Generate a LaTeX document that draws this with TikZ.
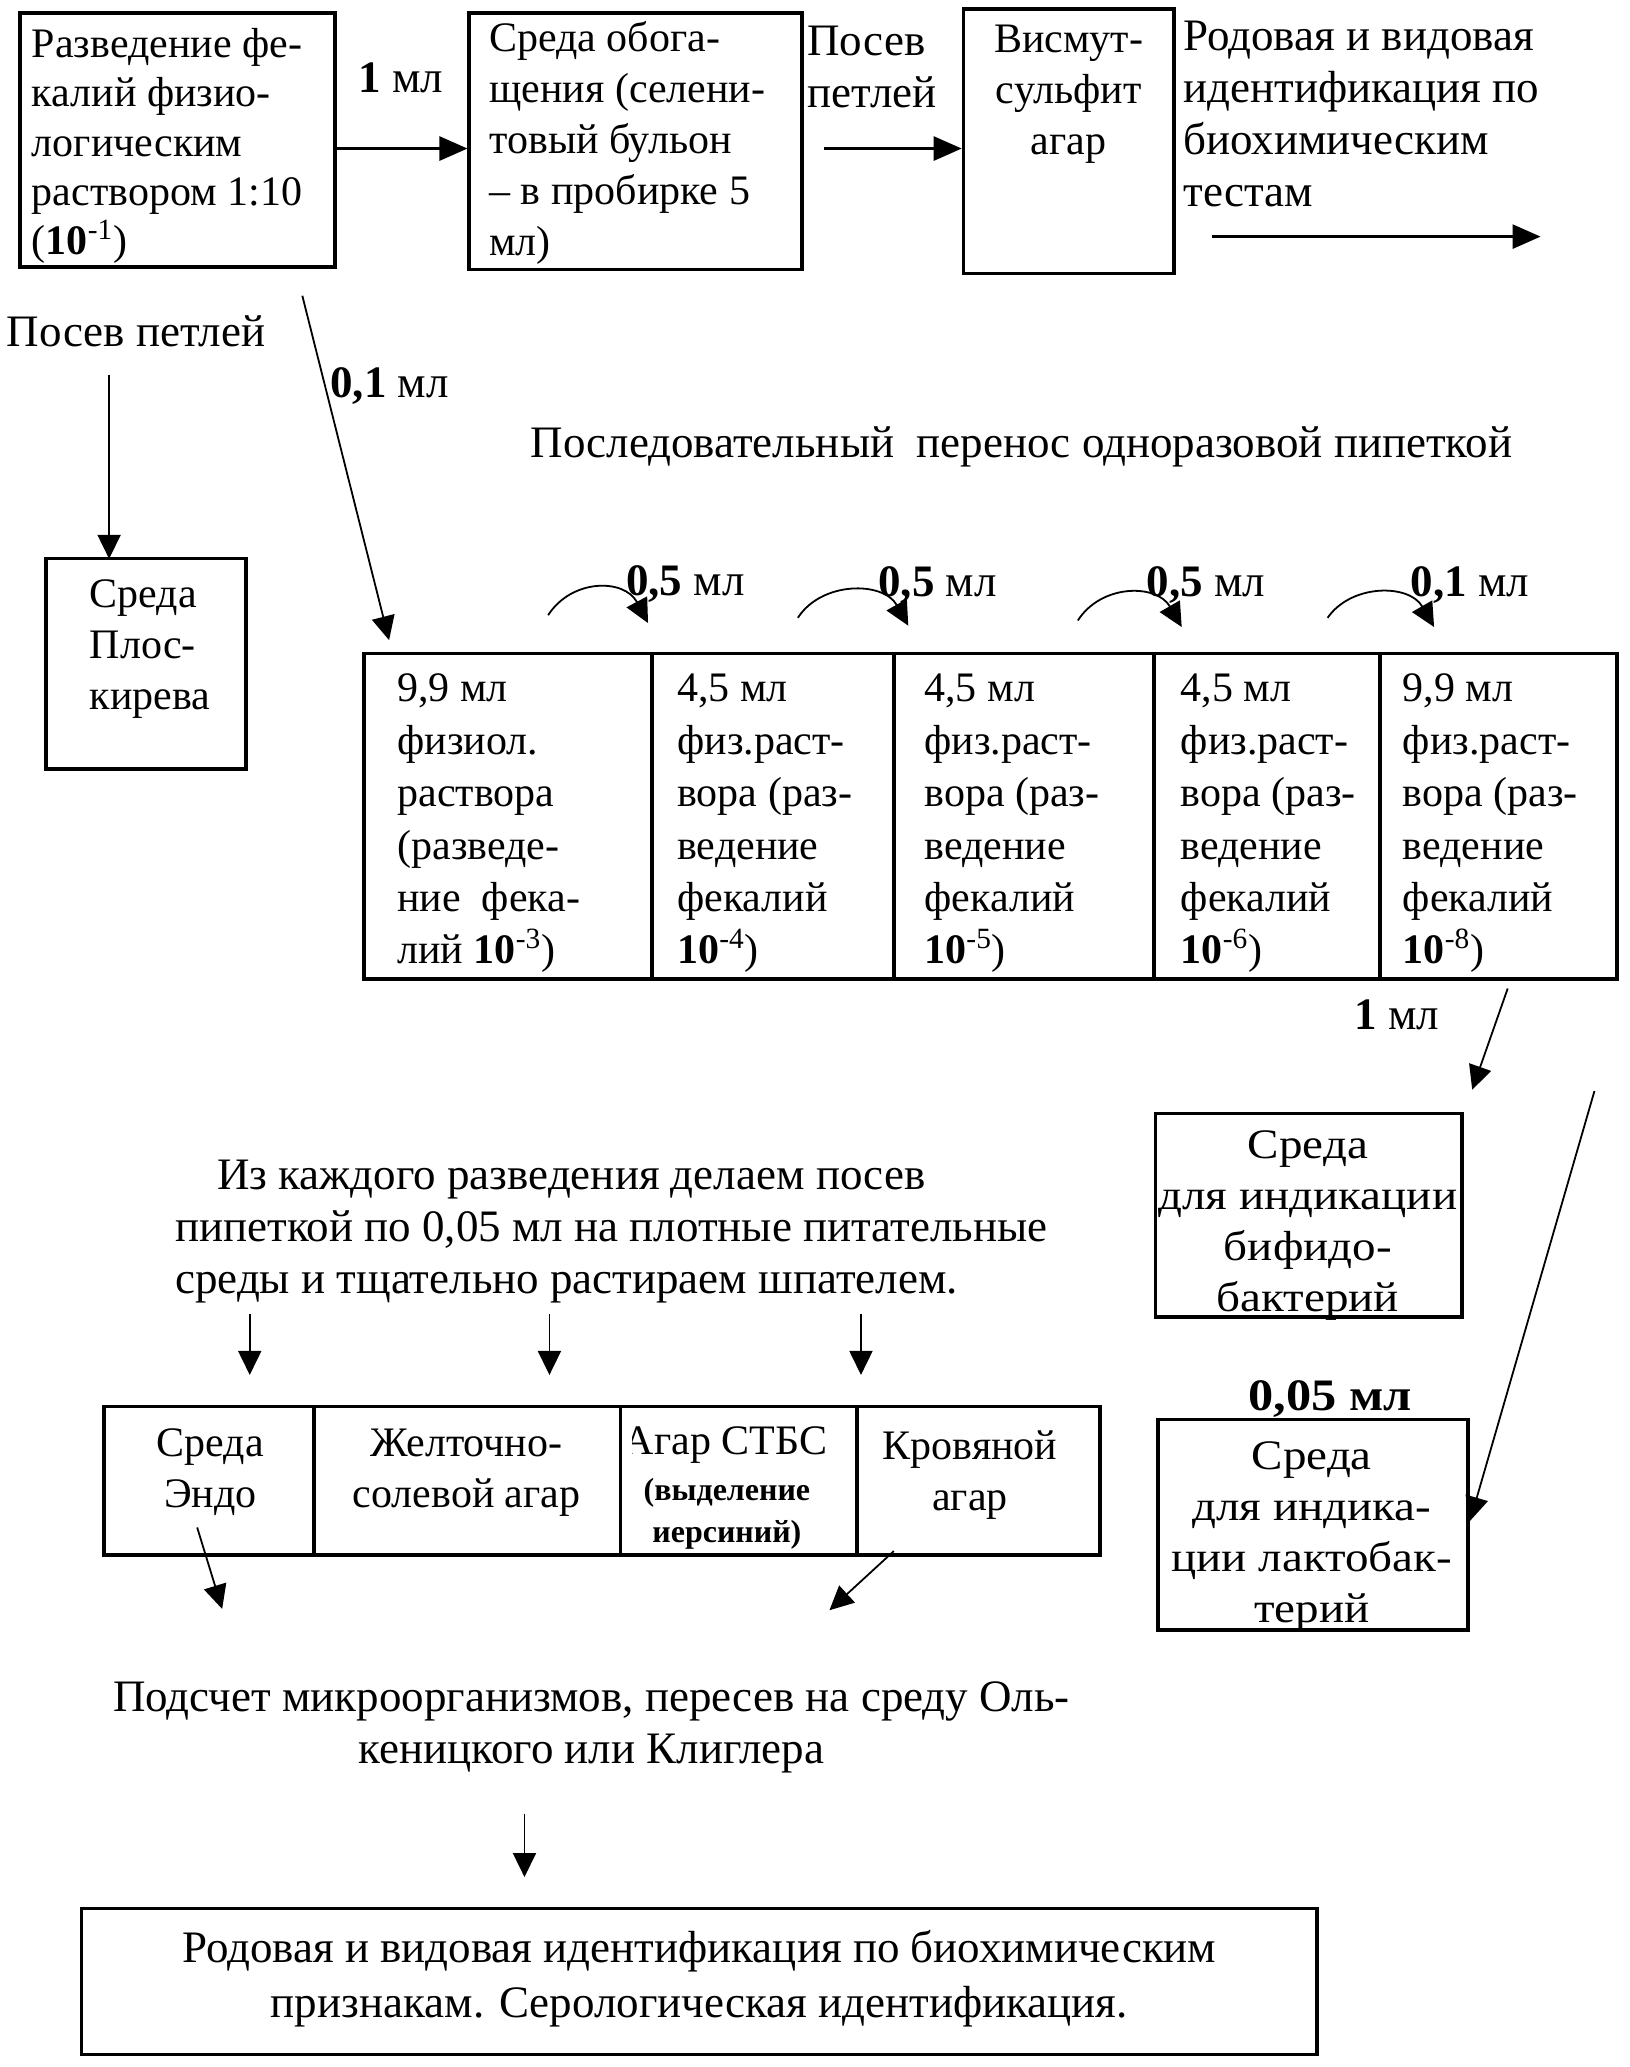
\documentclass[tikz,border=0pt]{standalone}
\usepackage{fontspec}
\setmainfont{Liberation Serif}
\newfontfamily\widefont[FakeStretch=1.12]{Liberation Serif}
\usetikzlibrary{arrows.meta,fit}
\newcommand{\fa}{\fontsize{21}{25.5}\selectfont}
\newcommand{\fd}{\fontsize{21}{24.7}\selectfont}
\newcommand{\fc}{\fontsize{21}{26.2}\selectfont}
\newcommand{\fb}{\fontsize{22.5}{26}\selectfont}
\begin{document}
\begin{tikzpicture}[x=0.6573pt,y=-0.6573pt,
  bx/.style={draw, line width=1.8pt, inner sep=0pt},
  txt/.style={inner sep=0pt, font=\fa, align=left},
  ctxt/.style={inner sep=0pt, font=\fc, align=left, anchor=west},
  wtxt/.style={inner sep=0pt, font=\widefont\fa, align=center},
  lbl/.style={inner sep=0pt, font=\fb, align=left},
  arr/.style={-{Triangle[length=14pt,width=12pt]}, line width=1.4pt},
  thin/.style={-{Triangle[length=12pt,width=11.5pt]}, line width=0.9pt}]
\useasboundingbox (0,0) rectangle (1240,1572.5);
\fill[white] (0,0) rectangle (1240,1572.5);
\coordinate (y113) at (0,113);
% --- top row
\node[bx, fit={(15,10) (255,203)}] (b1) {};
\begin{scope}
\clip (15,10) rectangle (253,203);
\node[txt, font=\fd, anchor=west] (t1) at (24,111) {Разведение фе-\\калий физио-\\логическим\\раствором 1:10\\(\textbf{10}\textsuperscript{-1})};
\end{scope}
\node[bx, fit={(357,10) (610,205)}] (b2) {};
\begin{scope}
\clip (357,10) rectangle (608,205);
\node[txt, anchor=west] (t2) at (372,109) {Среда обога-\\щения (селени-\\товый бульон\\– в пробирке 5\\мл)};
\end{scope}
\draw[arr] (b1.east |- y113) -- (b2.west |- y113);
\node[lbl, anchor=center] (l12) at (305,59) {\textbf{1} мл};
\node[lbl, anchor=west] (pp) at (614,51) {Посев\\петлей};
\node[bx, fit={(733,7) (893,208)}] (b3) {};
\node[txt, align=center, anchor=center] (t3) at (813,72) {Висмут-\\сульфит\\агар};
\coordinate (pps) at (627,113);
\draw[arr] (pps) -- (b3.west |- y113);
\node[lbl, anchor=west] (t4) at (900,87) {Родовая и видовая\\идентификация по\\биохимическим\\тестам};
\coordinate (r1) at (922,180);
\coordinate (r2) at (1172,180);
\draw[arr] (r1) -- (r2);
% --- left branch
\node[lbl, anchor=west] (pp2) at (5,252) {Посев петлей};
\node[bx, fit={(35,425) (187,585)}] (b4) {};
\node[txt, anchor=west] (t5) at (68,494) {Среда\\Плос-\\кирева};
\coordinate (ppx) at (83,285);
\draw[thin] (ppx) -- ([yshift=-1pt]ppx |- b4.north);
% --- 0,1 ml
\coordinate (d1) at (230,225);
\coordinate (d1e) at (296,487);
\draw[thin] (d1) -- (d1e);
\node[lbl, anchor=west] (l01) at (251,294) {\textbf{0,1} мл};
\node[lbl] (hdr) at (777,340) {Последовательный\ \ перенос одноразовой пипеткой};
% --- dilution cells
\node[bx, fit={(277,497) (496,745)}] (c1) {};
\node[bx, fit={(496,497) (680,745)}] (c2) {};
\node[bx, fit={(680,497) (878,745)}] (c3) {};
\node[bx, fit={(878,497) (1050,745)}] (c4) {};
\node[bx, fit={(1050,497) (1230,745)}] (c5) {};
\node[ctxt] (tc1) at (302,626.5) {9,9 мл\\физиол.\\раствора\\(разведе-\\ние\ \ фека-\\лий \textbf{10}\textsuperscript{-3})};
\node[ctxt] (tc2) at (515,626.5) {4,5 мл\\физ.раст-\\вора (раз-\\ведение\\фекалий\\\textbf{10}\textsuperscript{-4})};
\node[ctxt] (tc3) at (703,626.5) {4,5 мл\\физ.раст-\\вора (раз-\\ведение\\фекалий\\\textbf{10}\textsuperscript{-5})};
\node[ctxt] (tc4) at (898,626.5) {4,5 мл\\физ.раст-\\вора (раз-\\ведение\\фекалий\\\textbf{10}\textsuperscript{-6})};
\node[ctxt] (tc5) at (1067,626.5) {9,9 мл\\физ.раст-\\вора (раз-\\ведение\\фекалий\\\textbf{10}\textsuperscript{-8})};
% --- transfer arcs
\coordinate (a1s) at (417,468); \coordinate (a1e) at (493,474);
\coordinate (a2s) at (607,470); \coordinate (a2e) at (691,476);
\coordinate (a3s) at (820,472); \coordinate (a3e) at (899,477);
\coordinate (a4s) at (1010,470); \coordinate (a4e) at (1091,477);
\draw[thin] (a1s) .. controls (435,440) and (475,440) .. (a1e);
\draw[thin] (a2s) .. controls (625,442) and (672,442) .. (a2e);
\draw[thin] (a3s) .. controls (838,444) and (880,444) .. (a3e);
\draw[thin] (a4s) .. controls (1028,444) and (1072,444) .. (a4e);
\node[lbl, anchor=west] (m1) at (476,444) {\textbf{0,5} мл};
\node[lbl, anchor=west] (m2) at (668,445) {\textbf{0,5} мл};
\node[lbl, anchor=west] (m3) at (872,445) {\textbf{0,5} мл};
\node[lbl, anchor=west] (m4) at (1073,445) {\textbf{0,1} мл};
% --- right boxes
\coordinate (e5s) at (1147,752);
\coordinate (e5e) at (1120,829);
\draw[thin] (e5s) -- (e5e);
\node[lbl, anchor=west] (l1b) at (1030,772) {\textbf{1} мл};
\node[bx, fit={(879,847) (1112,1002)}] (bif) {};
\node[wtxt] (tbif) at (995,932) {Среда\\для индикации\\бифидо-\\бактерий};
\node[inner sep=0pt, font=\widefont\fb\bfseries] (l005) at (1012,1064) {0,05 мл};
\node[bx, fit={(881,1080) (1117,1240)}] (lac) {};
\node[wtxt] (tlac) at (998,1169) {Среда\\для индика-\\ции лактобак-\\терий};
\coordinate (lg) at (1213,830);
\coordinate (y1157) at (0,1157);
\draw[thin] (lg) -- (lac.east |- y1157);
% --- plating paragraph
\node[lbl, anchor=west] (par) at (133,937) {\hspace*{21pt}Из каждого разведения делаем посев\\пипеткой по 0,05 мл на плотные питательные\\среды и тщательно растираем шпателем.};
\coordinate (p1s) at (190,1000); \coordinate (p1e) at (190,1046);
\coordinate (p2s) at (418,1000); \coordinate (p2e) at (418,1046);
\coordinate (p3s) at (655,1000); \coordinate (p3e) at (655,1046);
\draw[thin] (p1s) -- (p1e);
\draw[thin] (p2s) -- (p2e);
\draw[thin] (p3s) -- (p3e);
% --- media table
\node[bx, fit={(79,1070) (239,1183)}] (e1) {};
\node[bx, fit={(239,1070) (472,1183)}] (e2) {};
\node[bx, fit={(472,1070) (652,1183)}] (e3) {};
\node[bx, fit={(652,1070) (837,1183)}] (e4) {};
\node[txt, align=center] (te1) at (160,1120) {Среда\\Эндо};
\node[txt, align=center] (te2) at (355,1120) {Желточно-\\солевой агар};
\begin{scope}
\clip (481,1070) rectangle (652,1183);
\node[txt] (te3a) at (552,1099) {Агар СТБС};
\end{scope}
\node[inner sep=0pt, font=\fontsize{16}{21}\selectfont\bfseries, align=center] (te3b) at (553,1152) {(выделение\\иерсиний)};
\node[txt, align=center] (te4) at (738,1122) {Кровяной\\агар};
\coordinate (q1s) at (150,1162); \coordinate (q1e) at (169,1224);
\coordinate (q2s) at (680,1180); \coordinate (q2e) at (631,1225);
\draw[thin] (q1s) -- (q1e);
\draw[thin] (q2s) -- (q2e);
% --- counting and identification
\node[lbl, align=center] (pod) at (450,1314) {Подсчет микроорганизмов, пересев на среду Оль-\\кеницкого или Клиглера};
\coordinate (f1) at (399,1380);
\coordinate (f2) at (399,1428);
\draw[thin] (f1) -- (f2);
\node[bx, fit={(62,1452) (1002,1563)}] (fin) {};
\node[lbl, font=\fontsize{22.5}{27.5}\selectfont, align=center] (tfin) at (532,1505) {Родовая и видовая идентификация по биохимическим\\признакам. Серологическая идентификация.};
\end{tikzpicture}
\end{document}
